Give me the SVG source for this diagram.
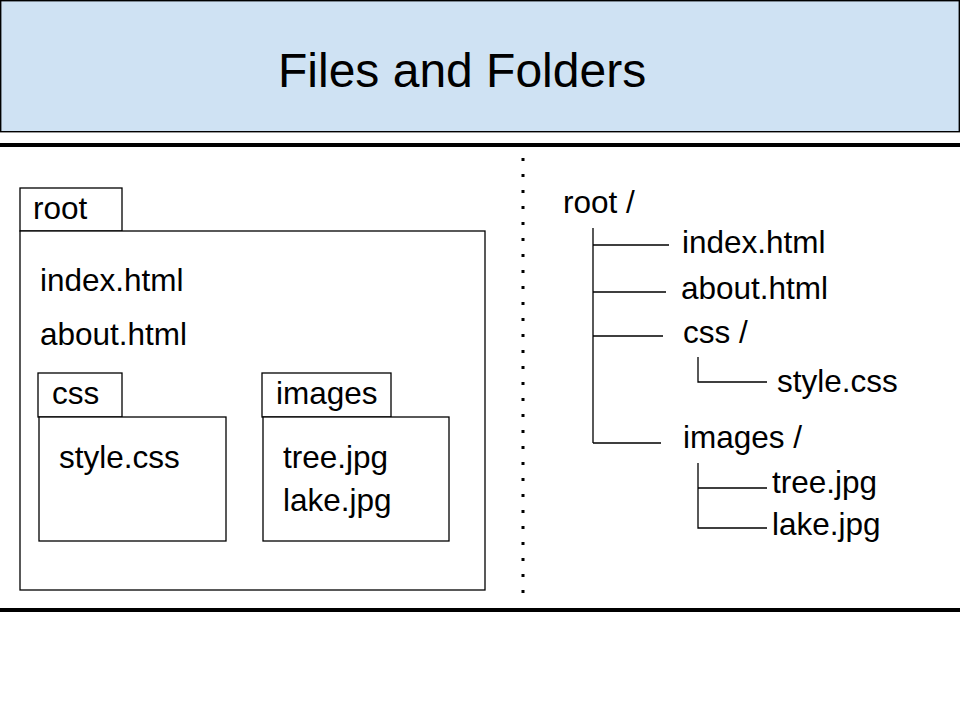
<svg xmlns="http://www.w3.org/2000/svg" width="960" height="720" viewBox="0 0 960 720">
<style>
.t{font-family:"Liberation Sans",Arial,sans-serif;font-size:31.5px;fill:#000}
.box{fill:#fff;stroke:#000;stroke-width:1.3}
.ln{stroke:#000;stroke-width:1.3;fill:none}
</style>
<rect width="960" height="720" fill="#fff"/>
<g id="header">
<rect x="0.7" y="0.7" width="958.6" height="131" fill="#cfe2f3" stroke="#000" stroke-width="1.4"/>
<text x="278" y="87" style="font-family:'Liberation Sans',Arial,sans-serif;font-size:48px">Files and Folders</text>
</g>
<g id="dividers">
<line x1="0" y1="145" x2="960" y2="145" stroke="#000" stroke-width="4"/>
<line x1="0" y1="610" x2="960" y2="610" stroke="#000" stroke-width="4"/>
<line x1="523" y1="158" x2="523" y2="595" stroke="#000" stroke-width="3" stroke-dasharray="3 13"/>
</g>
<g id="root-folder">
<rect class="box" x="20" y="188" width="102" height="43"/>
<rect class="box" x="20" y="231" width="465" height="359"/>
<text class="t" x="33" y="219">root</text>
<text class="t" x="40" y="291">index.html</text>
<text class="t" x="40" y="345">about.html</text>
</g>
<g id="css-folder">
<rect class="box" x="38" y="373" width="84" height="44"/>
<rect class="box" x="39" y="417" width="187" height="124"/>
<text class="t" x="52" y="404">css</text>
<text class="t" x="59" y="468">style.css</text>
</g>
<g id="images-folder">
<rect class="box" x="262" y="373" width="129" height="44"/>
<rect class="box" x="263" y="417" width="186" height="124"/>
<text class="t" x="276" y="404">images</text>
<text class="t" x="283" y="468">tree.jpg</text>
<text class="t" x="283" y="511">lake.jpg</text>
</g>
<g id="connectors">
<path class="ln" d="M593 228V443M593 245H669M593 292H666M593 336H663M593 443H661"/>
<path class="ln" d="M698 357V382H767"/>
<path class="ln" d="M698 463V528H767M698 488H767"/>
</g>
<g id="tree-labels">
<text class="t" x="563" y="213">root /</text>
<text class="t" x="682" y="253">index.html</text>
<text class="t" x="681" y="299">about.html</text>
<text class="t" x="683" y="343">css /</text>
<text class="t" x="777" y="392">style.css</text>
<text class="t" x="683" y="448">images /</text>
<text class="t" x="772" y="493">tree.jpg</text>
<text class="t" x="772" y="535">lake.jpg</text>
</g>
</svg>
